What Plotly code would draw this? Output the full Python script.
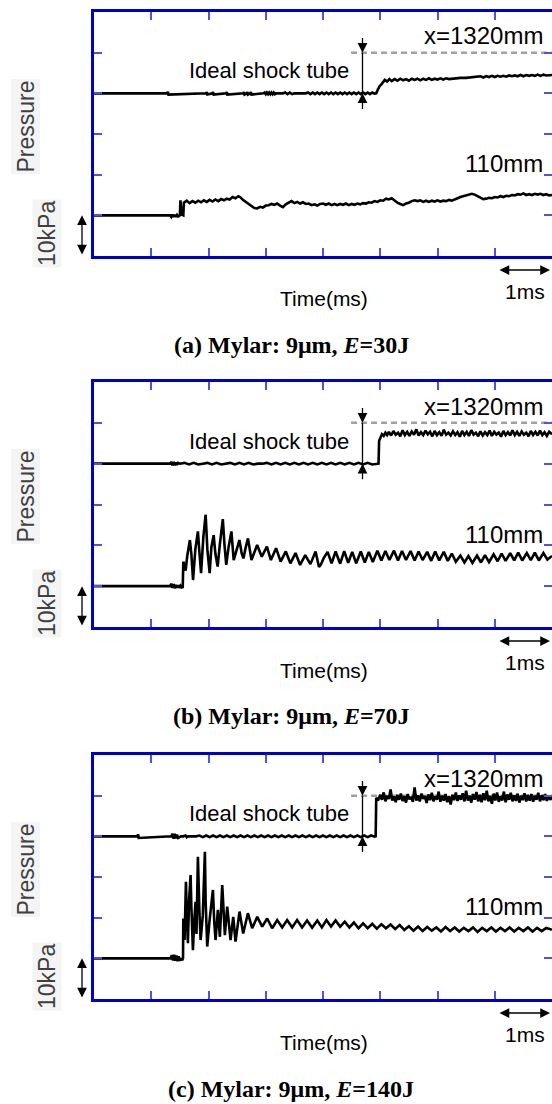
import plotly.graph_objects as go

# ---------------- data (time in ms, pressure in units of 10 kPa) ----------------
A_1320_T = [0.00, 1.28, 1.29, 1.30, 1.96, 1.97, 1.98, 2.07, 2.08, 2.09,
            2.31, 2.32, 2.33, 2.61, 2.62, 2.63, 2.67, 2.68, 2.69, 2.73,
            2.74, 2.75, 2.96, 2.98, 3.00, 3.02, 3.04, 3.06, 3.08, 3.10,
            3.12, 3.14, 3.16, 3.18, 3.30, 3.34, 3.38, 3.42, 3.46, 3.50,
            3.70, 3.74, 3.78, 3.82, 3.86, 3.90, 3.94, 3.98, 4.02, 4.06,
            4.10, 4.14, 4.18, 4.22, 4.26, 4.30, 4.34, 4.38, 4.42, 4.46,
            4.50, 4.54, 4.58, 4.62, 4.66, 4.70, 4.74, 4.78, 4.82, 4.86,
            4.90, 4.93, 4.96, 4.99, 5.02, 5.05, 5.08, 5.12, 5.16, 5.20,
            5.25, 5.30, 5.35, 5.40, 5.45, 5.50, 5.55, 5.60, 5.65, 5.70,
            5.75, 5.80, 5.85, 5.90, 5.95, 6.00, 6.05, 6.10, 6.15, 6.20,
            6.30, 6.40, 6.50, 6.60, 6.70, 6.75, 6.80, 6.85, 6.90, 6.95,
            7.00, 7.05, 7.10, 7.15, 7.20, 7.25, 7.30, 7.35, 7.40, 7.45,
            7.50, 7.55, 7.60, 7.65, 7.70, 7.75, 7.80, 7.85, 7.90, 8.00]
A_1320_P = [4.00, 4.00, 4.04, 3.97, 4.00, 4.03, 3.97, 4.00, 4.03, 3.97,
            4.00, 4.03, 3.97, 4.00, 4.03, 3.97, 4.00, 4.03, 3.97, 4.00,
            4.03, 3.97, 4.00, 4.02, 3.98, 4.02, 3.98, 4.02, 3.98, 4.02,
            3.98, 4.02, 3.98, 4.00, 4.00, 4.02, 3.98, 4.02, 3.98, 4.00,
            4.00, 4.02, 3.98, 4.02, 3.98, 4.02, 3.98, 4.02, 3.98, 4.02,
            3.98, 4.02, 3.98, 4.02, 3.98, 4.02, 3.98, 4.02, 3.98, 4.02,
            3.98, 4.02, 3.98, 4.02, 3.98, 4.02, 3.98, 4.02, 3.98, 4.02,
            3.99, 4.00, 4.10, 4.18, 4.22, 4.28, 4.33, 4.29, 4.35, 4.30,
            4.35, 4.31, 4.36, 4.32, 4.35, 4.31, 4.36, 4.33, 4.36, 4.32,
            4.36, 4.33, 4.37, 4.33, 4.36, 4.34, 4.37, 4.34, 4.37, 4.35,
            4.37, 4.38, 4.38, 4.39, 4.40, 4.42, 4.39, 4.42, 4.40, 4.43,
            4.40, 4.43, 4.41, 4.43, 4.41, 4.44, 4.42, 4.44, 4.42, 4.45,
            4.42, 4.45, 4.43, 4.45, 4.43, 4.46, 4.43, 4.46, 4.44, 4.45]

A_110_T = [0.00, 1.33, 1.35, 1.37, 1.39, 1.41, 1.43, 1.45, 1.47, 1.49,
           1.50, 1.51, 1.53, 1.56, 1.57, 1.62, 1.67, 1.72, 1.77, 1.82,
           1.87, 1.92, 1.97, 2.02, 2.07, 2.12, 2.17, 2.22, 2.27, 2.32,
           2.37, 2.42, 2.47, 2.52, 2.56, 2.60, 2.65, 2.70, 2.75, 2.80,
           2.85, 2.90, 2.95, 3.00, 3.05, 3.10, 3.15, 3.20, 3.25, 3.30,
           3.35, 3.40, 3.45, 3.50, 3.55, 3.60, 3.65, 3.70, 3.75, 3.80,
           3.85, 3.90, 3.95, 4.00, 4.05, 4.10, 4.15, 4.20, 4.25, 4.30,
           4.35, 4.40, 4.45, 4.50, 4.55, 4.60, 4.65, 4.70, 4.75, 4.80,
           4.85, 4.90, 4.95, 5.00, 5.05, 5.10, 5.15, 5.20, 5.25, 5.30,
           5.35, 5.40, 5.45, 5.50, 5.55, 5.60, 5.65, 5.70, 5.75, 5.80,
           5.85, 5.90, 5.95, 6.00, 6.05, 6.10, 6.15, 6.20, 6.25, 6.30,
           6.35, 6.40, 6.45, 6.50, 6.55, 6.60, 6.65, 6.70, 6.75, 6.80,
           6.85, 6.90, 6.95, 7.00, 7.05, 7.10, 7.15, 7.20, 7.25, 7.30,
           7.35, 7.40, 7.45, 7.50, 7.55, 7.60, 7.65, 7.70, 7.75, 7.80,
           7.85, 7.90, 7.95, 8.00]
A_110_P = [1.00, 1.00, 0.96, 1.02, 0.96, 1.01, 0.96, 1.01, 0.97, 0.98,
           1.00, 1.37, 1.02, 1.00, 1.31, 1.36, 1.30, 1.35, 1.31, 1.36,
           1.32, 1.37, 1.33, 1.38, 1.34, 1.39, 1.35, 1.40, 1.37, 1.41,
           1.39, 1.45, 1.42, 1.47, 1.44, 1.38, 1.33, 1.27, 1.23, 1.18,
           1.17, 1.21, 1.19, 1.24, 1.25, 1.28, 1.26, 1.29, 1.24, 1.20,
           1.27, 1.32, 1.35, 1.30, 1.33, 1.29, 1.32, 1.28, 1.29, 1.25,
           1.27, 1.24, 1.28, 1.29, 1.26, 1.29, 1.25, 1.28, 1.25, 1.28,
           1.26, 1.29, 1.25, 1.28, 1.26, 1.29, 1.27, 1.30, 1.29, 1.32,
           1.31, 1.35, 1.33, 1.37, 1.36, 1.41, 1.39, 1.42, 1.36, 1.31,
           1.28, 1.25, 1.29, 1.31, 1.35, 1.37, 1.35, 1.37, 1.33, 1.36,
           1.33, 1.36, 1.34, 1.37, 1.34, 1.36, 1.35, 1.38, 1.36, 1.40,
           1.42, 1.45, 1.47, 1.49, 1.51, 1.53, 1.51, 1.47, 1.44, 1.40,
           1.41, 1.43, 1.42, 1.45, 1.44, 1.47, 1.45, 1.48, 1.47, 1.50,
           1.49, 1.52, 1.51, 1.54, 1.50, 1.52, 1.50, 1.53, 1.51, 1.53,
           1.50, 1.52, 1.49, 1.50]

B_1320_T = [0.00, 1.33, 1.35, 1.37, 1.39, 1.41, 1.43, 1.45, 1.47, 1.50,
            1.58, 1.66, 1.74, 1.82, 1.90, 1.98, 2.06, 2.14, 2.22, 2.30,
            2.38, 2.46, 2.54, 2.62, 2.70, 2.78, 2.86, 2.94, 3.02, 3.10,
            3.18, 3.26, 3.34, 3.42, 3.50, 3.58, 3.66, 3.74, 3.82, 3.90,
            3.98, 4.06, 4.14, 4.22, 4.30, 4.38, 4.46, 4.54, 4.62, 4.70,
            4.78, 4.86, 4.94, 4.97, 4.98, 5.00, 5.03, 5.06, 5.09, 5.12,
            5.15, 5.19, 5.23, 5.27, 5.31, 5.35, 5.39, 5.43, 5.47, 5.51,
            5.55, 5.59, 5.63, 5.67, 5.71, 5.75, 5.79, 5.83, 5.87, 5.91,
            5.95, 5.99, 6.03, 6.07, 6.11, 6.15, 6.19, 6.23, 6.27, 6.31,
            6.35, 6.39, 6.43, 6.47, 6.51, 6.55, 6.59, 6.63, 6.67, 6.71,
            6.75, 6.79, 6.83, 6.87, 6.91, 6.95, 6.99, 7.03, 7.07, 7.11,
            7.15, 7.19, 7.23, 7.27, 7.31, 7.35, 7.39, 7.43, 7.47, 7.51,
            7.55, 7.59, 7.63, 7.67, 7.71, 7.75, 7.79, 7.83, 7.87, 7.91,
            7.95, 8.00]
B_1320_P = [4.00, 4.00, 4.04, 3.96, 4.04, 3.96, 4.03, 3.97, 4.02, 4.00,
            4.02, 3.98, 4.02, 3.98, 4.00, 4.02, 3.98, 4.02, 3.98, 4.00,
            4.02, 3.98, 4.02, 3.98, 4.02, 3.98, 4.00, 4.00, 4.02, 3.98,
            4.02, 3.98, 4.02, 3.98, 4.02, 3.98, 4.02, 3.98, 4.02, 3.98,
            4.02, 3.98, 4.02, 3.98, 4.02, 3.98, 4.02, 3.98, 4.02, 3.98,
            4.02, 3.98, 4.00, 4.00, 4.56, 4.62, 4.72, 4.68, 4.76, 4.70,
            4.78, 4.69, 4.80, 4.71, 4.76, 4.67, 4.82, 4.70, 4.78, 4.68,
            4.79, 4.71, 4.84, 4.69, 4.77, 4.70, 4.81, 4.72, 4.78, 4.67,
            4.80, 4.70, 4.77, 4.68, 4.83, 4.71, 4.76, 4.69, 4.79, 4.70,
            4.77, 4.66, 4.80, 4.70, 4.78, 4.68, 4.82, 4.71, 4.76, 4.67,
            4.79, 4.69, 4.77, 4.70, 4.81, 4.68, 4.78, 4.71, 4.76, 4.66,
            4.80, 4.70, 4.77, 4.69, 4.82, 4.70, 4.78, 4.68, 4.79, 4.71,
            4.76, 4.67, 4.80, 4.70, 4.78, 4.69, 4.81, 4.70, 4.77, 4.68,
            4.78, 4.72]

B_110_T = [0.00, 1.33, 1.35, 1.37, 1.39, 1.41, 1.43, 1.45, 1.47, 1.49,
           1.51, 1.53, 1.55, 1.56, 1.58, 1.60, 1.63, 1.66, 1.675, 1.70,
           1.73, 1.77, 1.80, 1.815, 1.84, 1.87, 1.91, 1.95, 1.98, 2.02,
           2.05, 2.09, 2.12, 2.16, 2.20, 2.25, 2.28, 2.31, 2.35, 2.40,
           2.44, 2.49, 2.54, 2.58, 2.61, 2.65, 2.69, 2.75, 2.80, 2.85,
           2.93, 2.98, 3.02, 3.09, 3.14, 3.18, 3.26, 3.31, 3.35, 3.43,
           3.48, 3.52, 3.60, 3.65, 3.69, 3.78, 3.83, 3.87, 3.93, 3.96,
           4.01, 4.08, 4.15, 4.22, 4.30, 4.37, 4.44, 4.51, 4.58, 4.66,
           4.73, 4.80, 4.87, 4.95, 5.02, 5.09, 5.16, 5.24, 5.31, 5.38,
           5.45, 5.53, 5.60, 5.67, 5.74, 5.82, 5.89, 5.96, 6.03, 6.11,
           6.18, 6.25, 6.32, 6.40, 6.47, 6.54, 6.61, 6.69, 6.76, 6.83,
           6.90, 6.98, 7.05, 7.12, 7.19, 7.27, 7.34, 7.41, 7.48, 7.56,
           7.63, 7.70, 7.77, 7.85, 7.92, 8.00]
B_110_P = [1.00, 1.00, 1.06, 0.96, 1.05, 0.95, 1.03, 0.96, 1.02, 0.96,
           1.01, 0.97, 0.98, 1.60, 1.52, 1.38, 1.75, 2.05, 2.13, 1.80,
           1.15, 1.90, 2.20, 2.34, 1.85, 1.32, 2.20, 2.75, 1.90, 1.32,
           1.95, 2.25, 1.80, 1.48, 2.05, 2.64, 2.00, 1.52, 1.95, 2.34,
           1.64, 1.90, 2.13, 1.80, 1.68, 1.95, 2.17, 1.64, 1.85, 2.01,
           1.72, 1.85, 1.97, 1.64, 1.80, 1.93, 1.60, 1.72, 1.85, 1.56,
           1.68, 1.81, 1.52, 1.65, 1.76, 1.54, 1.70, 1.85, 1.47, 1.52,
           1.68, 1.84, 1.56, 1.85, 1.55, 1.86, 1.57, 1.84, 1.56, 1.85,
           1.58, 1.84, 1.59, 1.87, 1.63, 1.86, 1.64, 1.87, 1.63, 1.86,
           1.64, 1.86, 1.63, 1.85, 1.64, 1.84, 1.62, 1.85, 1.63, 1.84,
           1.62, 1.80, 1.60, 1.75, 1.58, 1.74, 1.57, 1.75, 1.58, 1.76,
           1.59, 1.78, 1.61, 1.80, 1.62, 1.81, 1.63, 1.82, 1.63, 1.81,
           1.64, 1.82, 1.63, 1.81, 1.65, 1.74]

C_1320_T = [0.00, 0.76, 0.77, 0.78, 1.35, 1.37, 1.39, 1.41, 1.43, 1.45,
            1.47, 1.52, 1.56, 1.60, 1.62, 1.64, 1.78, 1.84, 1.90, 1.96,
            2.02, 2.08, 2.14, 2.20, 2.26, 2.32, 2.38, 2.44, 2.50, 2.56,
            2.62, 2.68, 2.74, 2.80, 2.86, 2.92, 2.98, 3.04, 3.10, 3.16,
            3.22, 3.28, 3.34, 3.40, 3.46, 3.52, 3.58, 3.64, 3.70, 3.76,
            3.82, 3.88, 3.94, 4.00, 4.06, 4.12, 4.18, 4.24, 4.30, 4.36,
            4.42, 4.48, 4.54, 4.60, 4.66, 4.72, 4.78, 4.84, 4.90, 4.92,
            4.93, 4.96, 5.00, 5.03, 5.06, 5.09, 5.12, 5.15, 5.18, 5.21,
            5.24, 5.27, 5.30, 5.33, 5.36, 5.39, 5.42, 5.45, 5.48, 5.51,
            5.54, 5.57, 5.60, 5.63, 5.66, 5.69, 5.72, 5.75, 5.78, 5.81,
            5.84, 5.87, 5.90, 5.93, 5.96, 5.99, 6.02, 6.05, 6.08, 6.11,
            6.14, 6.17, 6.20, 6.23, 6.26, 6.29, 6.32, 6.35, 6.38, 6.41,
            6.44, 6.47, 6.50, 6.53, 6.56, 6.59, 6.62, 6.65, 6.68, 6.71,
            6.74, 6.77, 6.80, 6.83, 6.86, 6.89, 6.92, 6.95, 6.98, 7.01,
            7.04, 7.07, 7.10, 7.13, 7.16, 7.19, 7.22, 7.25, 7.28, 7.31,
            7.34, 7.37, 7.40, 7.43, 7.46, 7.49, 7.52, 7.55, 7.58, 7.61,
            7.64, 7.67, 7.70, 7.73, 7.76, 7.79, 7.82, 7.85, 7.88, 7.91,
            7.94, 7.97, 8.00]
C_1320_P = [4.00, 4.00, 4.05, 3.96, 4.00, 4.06, 3.94, 4.06, 3.95, 4.04,
            3.96, 4.00, 4.00, 4.02, 3.98, 4.00, 4.00, 4.02, 3.98, 4.02,
            3.98, 4.02, 3.98, 4.02, 3.98, 4.02, 3.98, 4.02, 3.98, 4.02,
            3.98, 4.02, 3.98, 4.02, 3.98, 4.02, 3.98, 4.02, 3.98, 4.02,
            3.98, 4.02, 3.98, 4.02, 3.98, 4.02, 3.98, 4.02, 3.98, 4.02,
            3.98, 4.02, 3.98, 4.02, 3.98, 4.02, 3.98, 4.02, 3.98, 4.02,
            3.98, 4.02, 3.98, 4.02, 3.98, 4.02, 3.98, 4.02, 3.99, 4.00,
            4.95, 4.88, 5.02, 4.90, 5.08, 4.86, 5.00, 4.92, 5.15, 4.88,
            4.98, 4.84, 5.02, 4.90, 5.05, 4.87, 4.99, 4.83, 5.04, 4.91,
            4.97, 4.85, 5.20, 4.88, 5.01, 4.86, 5.05, 4.92, 4.99, 4.82,
            5.03, 4.89, 5.07, 4.86, 4.98, 4.90, 5.10, 4.85, 5.00, 4.88,
            5.04, 4.84, 4.99, 4.78, 5.02, 4.89, 5.08, 4.87, 5.01, 4.90,
            5.06, 4.86, 5.12, 4.88, 5.00, 4.83, 5.04, 4.90, 5.09, 4.86,
            5.02, 4.84, 5.06, 4.89, 5.12, 4.86, 5.00, 4.80, 5.05, 4.88,
            5.08, 4.85, 4.99, 4.88, 5.10, 4.84, 5.03, 4.90, 5.07, 4.86,
            5.01, 4.87, 5.05, 4.83, 5.00, 4.89, 5.06, 4.86, 5.02, 4.88,
            5.04, 4.85, 5.00, 4.90, 5.07, 4.86, 5.01, 4.89, 5.04, 4.87,
            5.00, 4.90, 4.96]

C_110_T = [0.00, 1.34, 1.36, 1.38, 1.40, 1.42, 1.44, 1.46, 1.48, 1.50,
           1.52, 1.54, 1.555, 1.56, 1.582, 1.606, 1.62, 1.64, 1.66, 1.687,
           1.70, 1.728, 1.75, 1.774, 1.79, 1.815, 1.84, 1.862, 1.90, 1.937,
           1.95, 1.978, 2.02, 2.077, 2.10, 2.123, 2.164, 2.199, 2.240, 2.286,
           2.327, 2.385, 2.432, 2.472, 2.542, 2.606, 2.688, 2.763, 2.851, 2.938,
           3.025, 3.112, 3.200, 3.287, 3.374, 3.461, 3.548, 3.635, 3.722, 3.81,
           3.90, 3.98, 4.06, 4.14, 4.22, 4.30, 4.38, 4.46, 4.54, 4.62,
           4.70, 4.78, 4.86, 4.94, 5.02, 5.10, 5.18, 5.26, 5.34, 5.42,
           5.50, 5.58, 5.66, 5.74, 5.82, 5.90, 5.98, 6.06, 6.14, 6.22,
           6.30, 6.38, 6.46, 6.54, 6.62, 6.70, 6.78, 6.86, 6.94, 7.02,
           7.10, 7.18, 7.26, 7.34, 7.42, 7.50, 7.58, 7.66, 7.74, 7.82,
           7.90, 8.00]
C_110_P = [1.00, 1.00, 1.08, 0.95, 1.09, 0.94, 1.07, 0.93, 1.05, 0.94,
           1.00, 0.95, 1.00, 1.98, 1.45, 2.88, 2.10, 1.37, 2.40, 3.05,
           2.30, 1.20, 1.90, 2.39, 1.60, 3.50, 2.20, 1.45, 2.05, 3.62,
           2.40, 1.29, 1.95, 2.68, 1.90, 1.45, 2.19, 1.53, 2.80, 1.57,
           2.27, 1.45, 2.02, 1.41, 2.15, 1.61, 2.11, 1.74, 2.02, 1.78,
           1.98, 1.74, 1.94, 1.76, 1.94, 1.76, 1.94, 1.76, 1.93, 1.75,
           1.93, 1.76, 1.94, 1.78, 1.93, 1.78, 1.90, 1.76, 1.88, 1.74,
           1.86, 1.74, 1.85, 1.73, 1.84, 1.74, 1.83, 1.72, 1.82, 1.70,
           1.79, 1.68, 1.78, 1.67, 1.77, 1.68, 1.76, 1.66, 1.77, 1.67,
           1.76, 1.66, 1.75, 1.67, 1.76, 1.65, 1.75, 1.67, 1.76, 1.66,
           1.75, 1.67, 1.76, 1.66, 1.75, 1.67, 1.76, 1.66, 1.75, 1.67,
           1.75, 1.70]

CAPTIONS = ["(a) Mylar: 9\u03bcm, <i>E</i>=30J",
            "(b) Mylar: 9\u03bcm, <i>E</i>=70J",
            "(c) Mylar: 9\u03bcm, <i>E</i>=140J"]
X_TICKS = [1, 2, 3, 4, 5, 6, 7]
Y_TICKS = [1, 2, 3, 4, 5]

PANELS = [(A_1320_T, A_1320_P, A_110_T, A_110_P),
          (B_1320_T, B_1320_P, B_110_T, B_110_P),
          (C_1320_T, C_1320_P, C_110_T, C_110_P)]
for a, b, c, d in PANELS:
    assert len(a) == len(b) and len(c) == len(d), (len(a), len(b), len(c), len(d))

# ---------------- layout geometry (pixels) ----------------
W, H = 552, 1104
TOP_PX = [12, 382, 755]
BOT_PX = [256, 627, 999]
CAP_PX = [345, 716, 1089]
LEFT_PX = 94


def py(p):
    return 1 - p / H


def px(p):
    return p / W


SANS = "Liberation Sans, Arial, sans-serif"
SERIF = "Liberation Serif, Times New Roman, serif"
BORDER = "#0000cc"
TICKC = "#5252e2"
LW = 2.6

fig = go.Figure()
layout = dict(width=W, height=H, margin=dict(l=0, r=0, t=0, b=0),
              paper_bgcolor="white", plot_bgcolor="white", showlegend=False)
annotations = []
shapes = []

for i in range(3):
    k = i + 1
    xs = "x" if k == 1 else f"x{k}"
    ys = "y" if k == 1 else f"y{k}"
    yr = f"y{k + 3}"
    top, bot = TOP_PX[i], BOT_PX[i]
    dom_y = [py(bot), py(top)]
    layout[f"xaxis{k}"] = dict(domain=[LEFT_PX / W, 1], anchor=ys, range=[0, 8],
                               tickmode="array", tickvals=X_TICKS, ticks="inside",
                               ticklen=8, tickwidth=2, tickcolor=TICKC,
                               showline=True, linecolor=BORDER, linewidth=3,
                               mirror="ticks", showticklabels=False,
                               showgrid=False, zeroline=False, fixedrange=True)
    layout[f"yaxis{k}"] = dict(domain=dom_y, anchor=xs, range=[0, 6],
                               tickmode="array", tickvals=Y_TICKS, ticks="inside",
                               ticklen=8, tickwidth=2, tickcolor=TICKC,
                               showline=True, linecolor=BORDER, linewidth=3,
                               mirror=False, showticklabels=False,
                               showgrid=False, zeroline=False, fixedrange=True)
    layout[f"yaxis{k + 3}"] = dict(overlaying=ys, side="right", anchor=xs, range=[0, 6],
                                   tickmode="array", tickvals=Y_TICKS, ticks="inside",
                                   ticklen=8, tickwidth=2, tickcolor=TICKC,
                                   showline=False, showticklabels=False,
                                   showgrid=False, zeroline=False, fixedrange=True)

    t_up, p_up, t_lo, p_lo = PANELS[i]
    fig.add_trace(go.Scatter(x=t_up, y=p_up, mode="lines", xaxis=xs, yaxis=ys,
                             line=dict(color="black", width=LW), hoverinfo="skip"))
    fig.add_trace(go.Scatter(x=t_lo, y=p_lo, mode="lines", xaxis=xs, yaxis=ys,
                             line=dict(color="black", width=LW), hoverinfo="skip"))
    fig.add_trace(go.Scatter(x=[None], y=[None], mode="lines", xaxis=xs, yaxis=yr,
                             hoverinfo="skip"))

    # ideal shock tube level (dashed) and its double arrow
    shapes.append(dict(type="line", xref=xs, yref=ys, x0=4.49, x1=8, y0=5, y1=5,
                       line=dict(color="#a0a0a0", width=2.5, dash="6px,4px"), layer="below"))
    shapes.append(dict(type="line", xref=xs, yref=ys, x0=4.69, x1=4.69, y0=4, y1=5,
                       line=dict(color="black", width=1.3)))
    annotations.append(dict(xref=xs, yref=ys, x=4.69, y=5.0, axref=xs, ayref=ys,
                            ax=4.69, ay=5.4, text="", showarrow=True, arrowhead=2,
                            arrowsize=1.5, arrowwidth=1.3, arrowcolor="black"))
    annotations.append(dict(xref=xs, yref=ys, x=4.69, y=4.0, axref=xs, ayref=ys,
                            ax=4.69, ay=3.58, text="", showarrow=True, arrowhead=2,
                            arrowsize=1.5, arrowwidth=1.3, arrowcolor="black"))

    # labels inside the panel
    annotations.append(dict(xref=xs, yref=ys, x=7.87, y=5.41, text="x=1320mm",
                            showarrow=False, xanchor="right", yanchor="middle",
                            font=dict(family=SANS, size=24, color="black")))
    annotations.append(dict(xref=xs, yref=ys, x=7.87, y=2.27, text="110mm",
                            showarrow=False, xanchor="right", yanchor="middle",
                            font=dict(family=SANS, size=24, color="black")))
    annotations.append(dict(xref=xs, yref=ys, x=4.49, y=4.55, text="Ideal shock tube",
                            showarrow=False, xanchor="right", yanchor="middle",
                            font=dict(family=SANS, size=22, color="black")))

    # below the panel (paper coordinates so they are not culled)
    annotations.append(dict(xref="paper", yref="paper", x=px(324), y=py(bot + 43),
                            text="Time(ms)", showarrow=False, xanchor="center",
                            yanchor="middle", font=dict(family=SANS, size=21, color="black")))
    annotations.append(dict(xref="paper", yref="paper", x=px(525), y=py(bot + 35),
                            text="1ms", showarrow=False, xanchor="center",
                            yanchor="middle", font=dict(family=SANS, size=21, color="black")))
    annotations.append(dict(xref="paper", yref="paper", x=px(550), y=py(bot + 14),
                            axref="pixel", ayref="pixel", ax=-52, ay=0, text="",
                            showarrow=True, arrowhead=2, arrowside="end+start",
                            arrowsize=1.5, arrowwidth=1.3, arrowcolor="black"))

    # left side labels
    annotations.append(dict(xref="paper", yref="paper", x=px(25.5), y=py(top + 115),
                            text="Pressure", textangle=-90, showarrow=False,
                            xanchor="center", yanchor="middle", bgcolor="#f4f4f4",
                            font=dict(family=SANS, size=23, color="#404040")))
    annotations.append(dict(xref="paper", yref="paper", x=px(47), y=py(top + 222),
                            text="10kPa", textangle=-90, showarrow=False,
                            xanchor="center", yanchor="middle", bgcolor="#f4f4f4",
                            font=dict(family=SANS, size=23, color="#404040")))
    annotations.append(dict(xref="paper", yref=ys, x=px(82), y=1.0, axref="pixel",
                            ayref=ys, ax=0, ay=0.0, text="", showarrow=True,
                            arrowhead=2, arrowside="end+start", arrowsize=1.5,
                            arrowwidth=1.3, arrowcolor="black"))

    # caption
    annotations.append(dict(xref="paper", yref="paper", x=px(291), y=py(CAP_PX[i]),
                            text=f"<b>{CAPTIONS[i]}</b>", showarrow=False,
                            xanchor="center", yanchor="middle",
                            font=dict(family=SERIF, size=24, color="black")))

layout["annotations"] = annotations
layout["shapes"] = shapes
fig.update_layout(**layout)
fig.write_html("out.html",
               config={"displayModeBar": False, "staticPlot": True},
               post_script="document.body.style.margin='0';"
                           "document.body.style.padding='0';"
                           "document.body.style.overflow='hidden';")
